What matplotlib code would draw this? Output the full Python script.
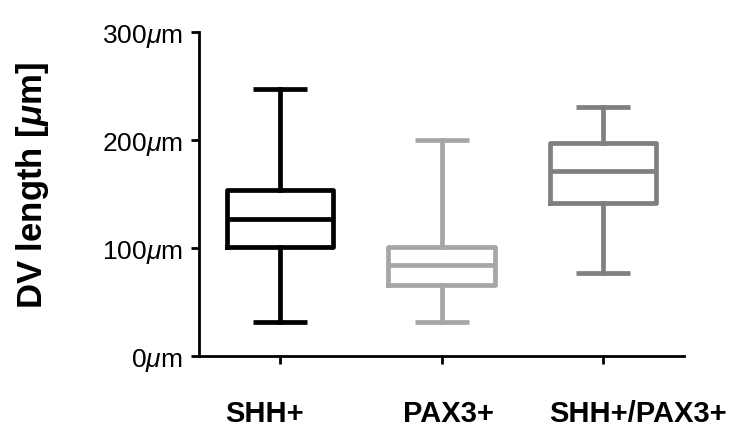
import matplotlib
matplotlib.use("Agg")
import matplotlib.pyplot as plt
from matplotlib.transforms import ScaledTranslation

plt.rcParams['font.family'] = ['Liberation Sans', 'DejaVu Sans']
plt.rcParams['mathtext.fontset'] = 'custom'
plt.rcParams['mathtext.rm'] = 'Liberation Sans'
plt.rcParams['mathtext.it'] = 'Liberation Sans:italic'
plt.rcParams['mathtext.bf'] = 'Liberation Sans:bold'
plt.rcParams['mathtext.bfit'] = 'Liberation Sans:italic:bold'

# min / q1 / median / q3 / max
groups = ['SHH+', 'PAX3+', 'SHH+/PAX3+']
mins = [32, 32, 77]
q1s = [101, 66, 142]
meds = [127, 84, 171]
q3s = [154, 101, 197]
maxs = [247, 200, 231]
colors = ['#000000', '#a6a6a8', '#808080']
yticks = [0, 100, 200, 300]

stats = []
for g, lo, a, m, b, hi in zip(groups, mins, q1s, meds, q3s, maxs):
    stats.append(dict(label=g, whislo=lo, q1=a, med=m, q3=b, whishi=hi, fliers=[]))

fig = plt.figure(figsize=(7.39, 4.35), dpi=100)
ax = fig.add_axes([0.2695, 0.179, 0.656, 0.745])

positions = [1, 2, 3]
for p, s, c in zip(positions, stats, colors):
    ax.bxp([s], positions=[p], widths=0.66, capwidths=0.334, showfliers=False,
           boxprops=dict(color=c, lw=3.4, solid_joinstyle='round'),
           medianprops=dict(color=c, lw=3.4, solid_capstyle='butt'),
           whiskerprops=dict(color=c, lw=3.4),
           capprops=dict(color=c, lw=3.4, solid_capstyle='butt'))

ax.set_xlim(0.5, 3.5)
ax.set_ylim(0, 300)
ax.set_yticks(yticks)
ax.set_yticklabels([f'{v}$\\mu$m' for v in yticks], fontsize=19)
ax.set_xticks(positions)
ax.set_xticklabels([])
ax.set_ylabel('DV length [$\\mathbfit{\\mu}$m]', fontsize=25, fontweight='bold')
ax.yaxis.set_label_coords(-0.305, 0.53)

# category labels sit a little off their ticks in the original
for p, g, dx in zip(positions, groups, [-11, 5, 25]):
    tr = ax.get_xaxis_transform() + ScaledTranslation(dx / 72, -46.5 / 72, fig.dpi_scale_trans)
    ax.text(p, 0, g, transform=tr, ha='center', va='baseline', fontsize=21, fontweight='bold')

for side in ['top', 'right']:
    ax.spines[side].set_visible(False)
for side in ['left', 'bottom']:
    ax.spines[side].set_linewidth(2.0)
ax.tick_params(axis='both', width=2.0, length=6, direction='out')
ax.tick_params(axis='y', pad=6)

fig.savefig('out.png', dpi=100)
